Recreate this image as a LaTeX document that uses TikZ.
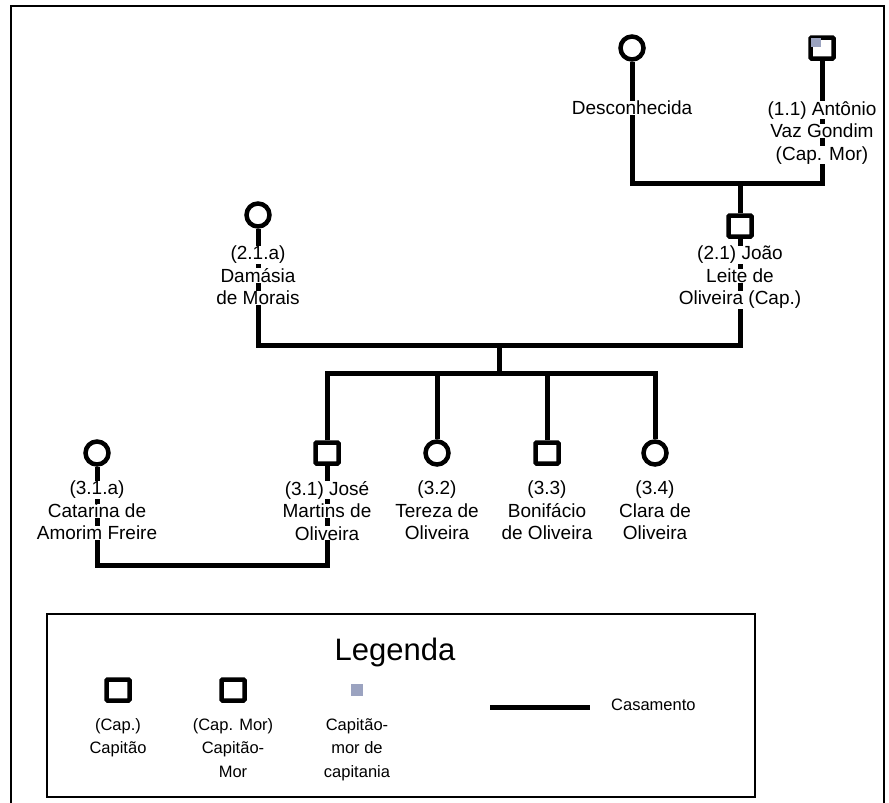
\documentclass[tikz,border=0pt]{standalone}
\usepackage{fontspec}
\setmainfont{Liberation Sans}
\usetikzlibrary{positioning}
\definecolor{capgray}{RGB}{155,163,192}
% fundo branco so atras de cada linha de texto
\newcommand{\fundo}[1]{{\setlength{\fboxsep}{0pt}\colorbox{white}{#1}}}

\begin{document}
\begin{tikzpicture}[x=1pt,y=1pt,
  fem/.style={draw, line width=4.5pt, circle, minimum size=23pt, inner sep=0pt},
  masc/.style={draw, line width=4.5pt, rectangle, rounded corners=1pt,
    minimum width=23pt, minimum height=21pt, inner sep=0pt},
  nome/.style={inner sep=1pt, align=center, anchor=north,
    font=\fontsize{19}{22.5}\selectfont},
  legtxt/.style={inner sep=1pt, align=center, anchor=north,
    font=\fontsize{16.5}{23.5}\selectfont},
  linha/.style={line width=5pt}]
\useasboundingbox (0,0) rectangle (889,-803);
% moldura
\draw [line width=2.5pt] (11,-803) -- (11,-6) -- (884,-6) -- (884,-803);

% geracao 1
\node [fem]  (desc) at (632,-48) {};
\node [masc] (ant)  at (822,-48) {};
\node [fill=capgray, minimum width=10pt, minimum height=9pt, inner sep=0pt,
  anchor=north west, xshift=2.5pt, yshift=-2.5pt] (antcap) at (ant.north west) {};
\coordinate (c1) at (740,-183);

% geracao 2
\node [fem]  (dam)  at (258,-215) {};
\node [masc] (joao) at (740,-226) {};
\coordinate (c2) at (499,-345);
\coordinate (s1) at (499,-373);

% geracao 3
\node [fem]  (cat)  at (97,-453) {};
\node [masc] (jose) at (327,-453) {};
\node [fem]  (ter)  at (437,-453) {};
\node [masc] (bon)  at (547,-453) {};
\node [fem]  (cla)  at (655,-453) {};
\coordinate (c3) at (212,-565);

% casamentos e filhos
\draw [linha] (desc) -- (desc |- c1) -- (ant |- c1) -- (ant);
\draw [linha] (c1) -- (joao);
\draw [linha] (dam) -- (dam |- c2) -- (joao |- c2) -- (joao);
\draw [linha] (c2) -- (s1);
\draw [linha] (jose) -- (jose |- s1) -- (cla |- s1) -- (cla);
\draw [linha] (ter |- s1) -- (ter);
\draw [linha] (bon |- s1) -- (bon);
\draw [linha] (cat) -- (cat |- c3) -- (jose |- c3) -- (jose);

% nomes
\node [nome] (descT) at (632,-100) {\fundo{Desconhecida}};
\node [nome] (antT)  at (822,-100) {\fundo{(1.1) Antônio}\\\fundo{Vaz Gondim}\\\fundo{(Cap. Mor)}};
\node [nome] (damT)  at (258,-245) {\fundo{(2.1.a)}\\\fundo{Damásia}\\\fundo{de Morais}};
\node [nome] (joaoT) at (740,-245) {\fundo{(2.1) João}\\\fundo{Leite de}\\\fundo{Oliveira (Cap.)}};
\node [nome] (catT)  at (97,-480)  {\fundo{(3.1.a)}\\\fundo{Catarina de}\\\fundo{Amorim Freire}};
\node [nome] (joseT) at (327,-480) {\fundo{(3.1) José}\\\fundo{Martins de}\\\fundo{Oliveira}};
\node [nome] (terT)  at (437,-480) {(3.2)\\Tereza de\\Oliveira};
\node [nome] (bonT)  at (547,-480) {(3.3)\\Bonifácio\\de Oliveira};
\node [nome] (claT)  at (655,-480) {(3.4)\\Clara de\\Oliveira};

% legenda
\draw [line width=1.5pt] (47,-614) rectangle (755,-797);
\node [font=\fontsize{31}{35}\selectfont] (leg) at (395,-652) {Legenda};
\node [masc] (lcap) at (118,-690) {};
\node [masc] (lmor) at (233,-690) {};
\node [fill=capgray, minimum size=12pt, inner sep=0pt] (lcm) at (357,-690) {};
\node [legtxt] (lcapT) at (118,-717) {(Cap.)\\Capitão};
\node [legtxt] (lmorT) at (233,-717) {(Cap. Mor)\\Capitão-\\Mor};
\node [legtxt] (lcmT)  at (357,-717) {Capitão-\\mor de\\capitania};
\coordinate (la) at (490,-707);
\coordinate (lb) at (590,-707);
\draw [linha] (la) -- (lb);
\node [legtxt, anchor=west] (lcas) at (610,-705) {Casamento};
\end{tikzpicture}
\end{document}
